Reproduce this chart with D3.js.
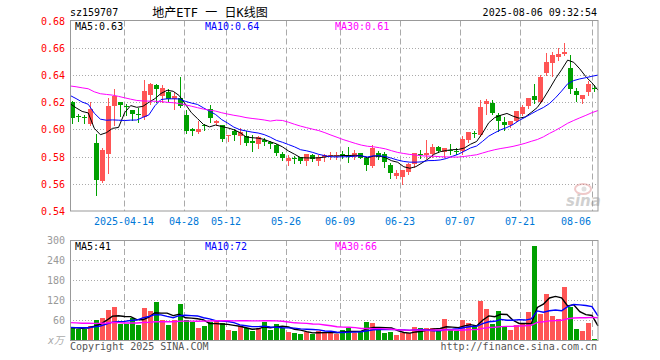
<!DOCTYPE html>
<html>
<head>
<meta charset="utf-8">
<script src="https://cdnjs.cloudflare.com/ajax/libs/d3/7.8.5/d3.min.js"></script>
<style>
  body { margin: 0; background: #fff; }
  svg text { font-family: "DejaVu Sans Mono", "Noto Sans CJK SC", monospace; }
</style>
</head>
<body>
<div id="chart"></div>
<script>
// daily bars, 2025-03-31 .. 2025-08-06
var dates = [
  "2025-03-31","2025-04-01","2025-04-02","2025-04-03","2025-04-07","2025-04-08","2025-04-09","2025-04-10","2025-04-11",
  "2025-04-14","2025-04-15","2025-04-16","2025-04-17","2025-04-18","2025-04-21","2025-04-22","2025-04-23","2025-04-24","2025-04-25",
  "2025-04-28","2025-04-29","2025-04-30","2025-05-06","2025-05-07","2025-05-08","2025-05-09",
  "2025-05-12","2025-05-13","2025-05-14","2025-05-15","2025-05-16","2025-05-19","2025-05-20","2025-05-21","2025-05-22","2025-05-23",
  "2025-05-26","2025-05-27","2025-05-28","2025-05-29","2025-05-30","2025-06-03","2025-06-04","2025-06-05","2025-06-06",
  "2025-06-09","2025-06-10","2025-06-11","2025-06-12","2025-06-13","2025-06-16","2025-06-17","2025-06-18","2025-06-19","2025-06-20",
  "2025-06-23","2025-06-24","2025-06-25","2025-06-26","2025-06-27","2025-06-30","2025-07-01","2025-07-02","2025-07-03","2025-07-04",
  "2025-07-07","2025-07-08","2025-07-09","2025-07-10","2025-07-11","2025-07-14","2025-07-15","2025-07-16","2025-07-17","2025-07-18",
  "2025-07-21","2025-07-22","2025-07-23","2025-07-24","2025-07-25","2025-07-28","2025-07-29","2025-07-30","2025-07-31","2025-08-01",
  "2025-08-04","2025-08-05","2025-08-06"
];

var open = [
  0.6200,0.6100,0.6090,0.6042,0.5900,0.5620,0.5820,0.6170,0.6200,
  0.6170,0.6142,0.6112,0.6090,0.6255,0.6324,0.6245,0.6275,0.6220,0.6230,
  0.6108,0.6005,0.5980,0.6030,0.6152,0.6044,0.6030,
  0.5955,0.5990,0.5949,0.5949,0.5917,0.5892,0.5924,0.5910,0.5883,0.5821,
  0.5769,0.5790,0.5794,0.5769,0.5809,0.5769,0.5794,0.5808,0.5810,
  0.5817,0.5810,0.5797,0.5823,0.5787,0.5733,0.5823,0.5817,0.5738,0.5659,
  0.5652,0.5684,0.5745,0.5818,0.5811,0.5817,0.5873,0.5836,0.5849,0.5838,
  0.5839,0.5924,0.5970,0.5955,0.6186,0.6194,0.6103,0.6054,0.6030,0.6064,
  0.6113,0.6169,0.6247,0.6200,0.6414,0.6488,0.6529,0.6554,0.6451,0.6284,
  0.6225,0.6275,0.6305
];
var high = [
  0.6205,0.6115,0.6108,0.6200,0.5968,0.5860,0.6230,0.6300,0.6200,
  0.6190,0.6142,0.6157,0.6360,0.6340,0.6330,0.6324,0.6294,0.6275,0.6385,
  0.6140,0.6010,0.6059,0.6040,0.6181,0.6071,0.6035,
  0.5960,0.6000,0.6010,0.5986,0.5960,0.5949,0.5936,0.5915,0.5890,0.5836,
  0.5814,0.5801,0.5800,0.5818,0.5820,0.5814,0.5820,0.5835,0.5835,
  0.5841,0.5873,0.5848,0.5825,0.5800,0.5885,0.5841,0.5832,0.5750,0.5701,
  0.5701,0.5750,0.5825,0.5848,0.5920,0.5892,0.5878,0.5866,0.5890,0.5860,
  0.5950,0.5978,0.5985,0.6218,0.6223,0.6218,0.6120,0.6091,0.6065,0.6135,
  0.6181,0.6230,0.6335,0.6402,0.6561,0.6568,0.6598,0.6635,0.6550,0.6304,
  0.6255,0.6357,0.6328
];
var low = [
  0.6050,0.6060,0.6049,0.6030,0.5520,0.5615,0.5680,0.6030,0.6100,
  0.6108,0.6066,0.6054,0.6078,0.6190,0.6200,0.6200,0.6210,0.6147,0.6164,
  0.5975,0.5956,0.5975,0.5997,0.6054,0.6034,0.5916,
  0.5912,0.5924,0.5892,0.5887,0.5843,0.5863,0.5883,0.5863,0.5814,0.5777,
  0.5736,0.5752,0.5752,0.5736,0.5770,0.5740,0.5765,0.5782,0.5785,
  0.5787,0.5763,0.5782,0.5787,0.5700,0.5726,0.5782,0.5726,0.5645,0.5645,
  0.5596,0.5670,0.5725,0.5787,0.5787,0.5799,0.5832,0.5800,0.5817,0.5817,
  0.5820,0.5907,0.5941,0.5950,0.6113,0.6113,0.5986,0.5997,0.6020,0.6060,
  0.6108,0.6157,0.6194,0.6194,0.6402,0.6390,0.6512,0.6544,0.6265,0.6211,
  0.6194,0.6250,0.6284
];
var close = [
  0.6086,0.6096,0.6086,0.6147,0.5625,0.5850,0.6170,0.6245,0.6180,
  0.6164,0.6115,0.6105,0.6280,0.6330,0.6300,0.6305,0.6220,0.6245,0.6170,
  0.5990,0.5988,0.6005,0.6025,0.6083,0.6059,0.5931,
  0.5957,0.5956,0.5980,0.5900,0.5900,0.5941,0.5907,0.5895,0.5826,0.5789,
  0.5789,0.5787,0.5769,0.5818,0.5784,0.5797,0.5814,0.5812,0.5813,
  0.5803,0.5797,0.5823,0.5792,0.5738,0.5866,0.5799,0.5763,0.5681,0.5681,
  0.5701,0.5745,0.5823,0.5815,0.5828,0.5873,0.5841,0.5866,0.5846,0.5835,
  0.5929,0.5978,0.5966,0.6164,0.6206,0.6120,0.6064,0.6030,0.6064,0.6133,
  0.6164,0.6230,0.6213,0.6382,0.6495,0.6544,0.6556,0.6568,0.6300,0.6255,
  0.6255,0.6333,0.6300
];
// volume, 万
var volume = [
  37,33,33,43,60,67,90,99,48,
  48,65,45,97,87,114,60,45,60,108,
  60,55,36,42,55,57,50,
  30,27,42,35,27,37,55,30,48,37,
  25,21,18,24,19,27,22,22,18,
  30,35,22,28,55,50,32,20,24,15,
  22,22,38,35,35,35,30,63,30,28,
  60,50,42,117,93,48,87,38,30,45,
  48,84,282,78,138,72,63,159,98,33,
  27,51,3
];
// the 29 sessions before the window, only used for the moving averages
var prevClose = [
  0.628,0.632,0.635,0.630,0.627,0.633,0.640,0.645,0.648,0.642,
  0.638,0.640,0.636,0.633,0.637,0.639,0.634,0.632,0.630,0.629,
  0.633,0.634,0.631,0.628,0.629,0.625,0.622,0.620,0.619
];
var prevVolume = [
  55,62,48,70,58,66,52,60,75,64,57,50,68,61,55,53,60,58,54,54,
  42,38,40,36,39,35,40,36,37
];

var priceTicks = [0.54, 0.56, 0.58, 0.60, 0.62, 0.64, 0.66, 0.68];
var volTicks = [60, 120, 180, 240, 300];
var tickDates = ["2025-04-14","2025-04-28","2025-05-12","2025-05-26","2025-06-09","2025-06-23","2025-07-07","2025-07-21","2025-08-06"];
var tickLabels = ["2025-04-14","04-28","05-12","05-26","06-09","06-23","07-07","07-21","08-06"];
var maDays = [5, 10, 30];
var maColors = ["#000000", "#0000ff", "#ff00ff"];
var priceMaText = ["0.63", "0.64", "0.61"];
var volMaText = ["41", "72", "66"];

var up = "#ff5555", down = "#00a000";

var left = 70, right = 598;
var priceTop = 20.5, priceBottom = 211;
var volTop = 240, volBottom = 340;

var svg = d3.select("#chart").append("svg")
  .attr("width", 660)
  .attr("height", 360);

var x = d3.scaleBand().domain(dates).range([left, right]).padding(0);
var xLine = d3.scaleLinear().domain([0, dates.length - 1]).range([left, right]);
var y = d3.scaleLinear().domain([0.54, 0.68]).range([priceBottom, priceTop]);
var yVol = d3.scaleLinear().domain([0, 300]).range([volBottom, volTop]);

var px = function(v) { return Math.round(v) + 0.5; };

function movingAverage(prev, values, n) {
  var all = prev.concat(values);
  return values.map(function(d, i) {
    var end = i + prev.length;
    return d3.mean(all.slice(end - n + 1, end + 1));
  });
}

// ---- grid ----
var grid = svg.append("g");
grid.selectAll(".hp")
  .data(priceTicks.slice(1, -1))
  .enter().append("line")
  .attr("x1", left).attr("x2", right)
  .attr("y1", function(d) { return px(y(d)); })
  .attr("y2", function(d) { return px(y(d)); })
  .attr("stroke", "#aaa")
  .attr("stroke-dasharray", "1,2");

grid.selectAll(".hv")
  .data(volTicks.slice(0, -1))
  .enter().append("line")
  .attr("x1", left).attr("x2", right)
  .attr("y1", function(d) { return px(yVol(d)); })
  .attr("y2", function(d) { return px(yVol(d)); })
  .attr("stroke", "#aaa")
  .attr("stroke-dasharray", "1,2");

[[priceTop, priceBottom], [volTop, volBottom]].forEach(function(p) {
  grid.selectAll(null)
    .data(tickDates)
    .enter().append("line")
    .attr("x1", function(d) { return x(d) + 0.5; })
    .attr("x2", function(d) { return x(d) + 0.5; })
    .attr("y1", p[0]).attr("y2", p[1])
    .attr("stroke", "#aaa")
    .attr("stroke-dasharray", "6,3");
});

// ---- sina watermark ----
var wm = svg.append("g").attr("opacity", 0.45);
wm.append("ellipse").attr("cx", 583).attr("cy", 189).attr("rx", 8).attr("ry", 5)
  .attr("fill", "none").attr("stroke", "#d88").attr("stroke-width", 2);
wm.append("circle").attr("cx", 584).attr("cy", 189).attr("r", 2.5).attr("fill", "#bbb");
wm.append("text").attr("x", 566).attr("y", 206)
  .style("font-family", "'DejaVu Sans', sans-serif")
  .attr("font-size", "15px").attr("font-weight", "bold").attr("font-style", "italic")
  .attr("fill", "#999").text("sina");

// ---- candles ----
var candles = svg.append("g").selectAll("g")
  .data(dates)
  .enter().append("g");

candles.append("line")
  .attr("x1", function(d) { return x(d) + 2.5; })
  .attr("x2", function(d) { return x(d) + 2.5; })
  .attr("y1", function(d, i) { return Math.round(y(high[i])); })
  .attr("y2", function(d, i) { return Math.round(y(low[i])) + 1; })
  .attr("stroke", function(d, i) { return close[i] >= open[i] ? up : down; });

candles.append("rect")
  .attr("x", function(d) { return x(d); })
  .attr("width", x.bandwidth() - 1)
  .attr("y", function(d, i) { return Math.round(y(Math.max(open[i], close[i]))); })
  .attr("height", function(d, i) {
    return Math.max(1, Math.round(y(Math.min(open[i], close[i]))) - Math.round(y(Math.max(open[i], close[i]))));
  })
  .attr("fill", function(d, i) { return close[i] >= open[i] ? up : down; });

// ---- volume bars ----
svg.append("g").selectAll("rect")
  .data(volume)
  .enter().append("rect")
  .attr("x", function(d, i) { return x(dates[i]); })
  .attr("width", x.bandwidth() - 1)
  .attr("y", function(d) { return Math.round(yVol(d)); })
  .attr("height", function(d) { return volBottom - Math.round(yVol(d)); })
  .attr("fill", function(d, i) { return close[i] >= open[i] ? up : down; });

// ---- moving averages ----
maDays.forEach(function(n, k) {
  var pm = movingAverage(prevClose, close, n);
  svg.append("path")
    .attr("d", d3.line().x(function(d, i) { return xLine(i); }).y(function(d) { return y(d); })(pm))
    .attr("fill", "none")
    .attr("stroke", maColors[k])
    .attr("stroke-width", 1);

  var vm = movingAverage(prevVolume, volume, n);
  svg.append("path")
    .attr("d", d3.line().x(function(d, i) { return xLine(i); }).y(function(d) { return yVol(d); })(vm))
    .attr("fill", "none")
    .attr("stroke", maColors[k])
    .attr("stroke-width", 1.4);
});

// ---- frames ----
svg.append("rect")
  .attr("x", left + 0.5).attr("y", priceTop)
  .attr("width", right - left - 0.5).attr("height", priceBottom - priceTop)
  .attr("fill", "none").attr("stroke", "#999");
svg.append("rect")
  .attr("x", left + 0.5).attr("y", volTop + 0.5)
  .attr("width", right - left - 0.5).attr("height", volBottom - volTop)
  .attr("fill", "none").attr("stroke", "#999");

// ---- axis labels ----
svg.append("g").selectAll("text")
  .data(priceTicks)
  .enter().append("text")
  .attr("x", 65)
  .attr("y", function(d) { return y(d) + 4; })
  .attr("text-anchor", "end")
  .attr("font-size", "10px")
  .attr("fill", "#ff0000")
  .text(function(d) { return d.toFixed(2); });

svg.append("g").selectAll("text")
  .data(volTicks)
  .enter().append("text")
  .attr("x", 65)
  .attr("y", function(d) { return yVol(d) + 4; })
  .attr("text-anchor", "end")
  .attr("font-size", "10px")
  .attr("fill", "#999")
  .text(function(d) { return d; });

svg.append("text")
  .attr("x", 64).attr("y", 344)
  .attr("text-anchor", "end")
  .attr("font-size", "10px")
  .attr("font-style", "italic")
  .attr("fill", "#aaa")
  .text("x万");

svg.append("g").selectAll("text")
  .data(tickDates)
  .enter().append("text")
  .attr("x", function(d, i) { return i === tickDates.length - 1 ? x(d) - 1 : x(d); })
  .attr("y", 225)
  .attr("text-anchor", function(d, i) { return i === tickDates.length - 1 ? "end" : "middle"; })
  .attr("font-size", "10px")
  .attr("fill", "#0078d7")
  .text(function(d, i) { return tickLabels[i]; });

// ---- header & legends ----
svg.append("text").attr("x", 70).attr("y", 16)
  .attr("font-size", "10px").attr("fill", "#000").text("sz159707");
svg.append("text").attr("x", 210).attr("y", 17)
  .attr("text-anchor", "middle")
  .attr("font-size", "12px").attr("fill", "#000").text("地产ETF 一 日K线图");
svg.append("text").attr("x", 597).attr("y", 16)
  .attr("text-anchor", "end")
  .attr("font-size", "10px").attr("fill", "#000").text("2025-08-06 09:32:54");

var legendX = [75, 205, 335];
maDays.forEach(function(n, k) {
  svg.append("text").attr("x", legendX[k]).attr("y", 30)
    .attr("font-size", "10px").attr("fill", maColors[k])
    .text("MA" + n + ":" + priceMaText[k]);
  svg.append("text").attr("x", legendX[k]).attr("y", 250)
    .attr("font-size", "10px").attr("fill", maColors[k])
    .text("MA" + n + ":" + volMaText[k]);
});

svg.append("text").attr("x", 70).attr("y", 350)
  .attr("font-size", "10px").attr("fill", "#555").text("Copyright 2025 SINA.COM");
svg.append("text").attr("x", 597).attr("y", 350)
  .attr("text-anchor", "end")
  .attr("font-size", "10px").attr("fill", "#555").text("http://finance.sina.com.cn");
</script>
</body>
</html>
